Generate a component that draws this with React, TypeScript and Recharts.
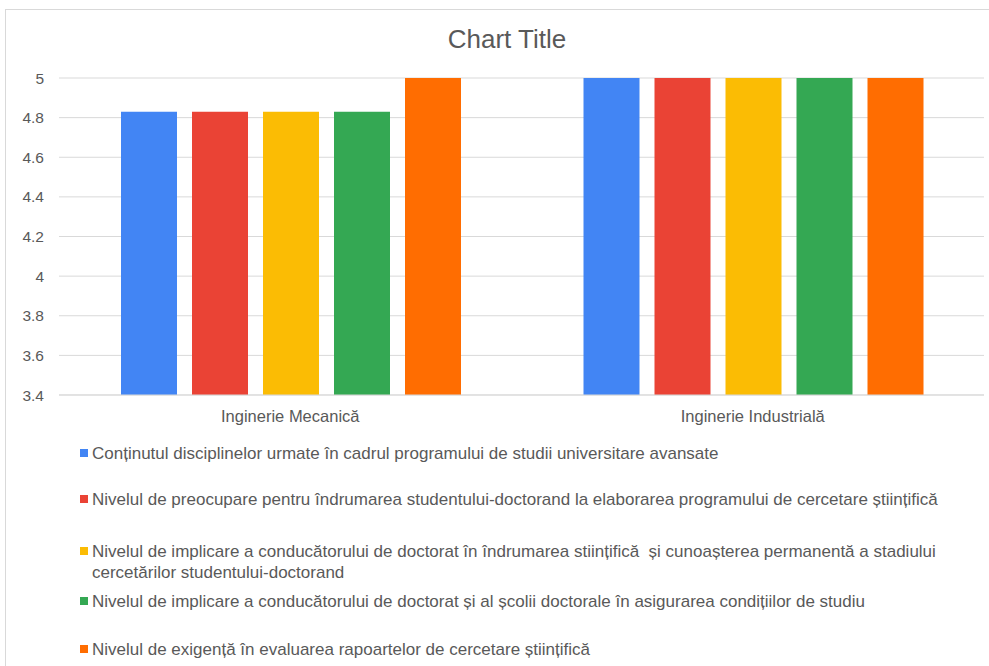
import { Bar, BarChart, CartesianGrid, XAxis, YAxis } from "recharts";

const categories = ["Inginerie Mecanică", "Inginerie Industrială"];

const continut = [4.83, 5];
const preocupare = [4.83, 5];
const implicareStiintifica = [4.83, 5];
const implicareConditii = [4.83, 5];
const exigenta = [5, 5];

const seriesNames = [
  "Conținutul disciplinelor urmate în cadrul programului de studii universitare avansate",
  "Nivelul de preocupare pentru îndrumarea studentului-doctorand la elaborarea programului de cercetare științifică",
  "Nivelul de implicare a conducătorului de doctorat în îndrumarea stiințifică  și cunoașterea permanentă a stadiului\ncercetărilor studentului-doctorand",
  "Nivelul de implicare a conducătorului de doctorat și al școlii doctorale în asigurarea condițiilor de studiu",
  "Nivelul de exigență în evaluarea rapoartelor de cercetare științifică",
];

const yTicks = [3.4, 3.6, 3.8, 4, 4.2, 4.4, 4.6, 4.8, 5];

const colors = ["#4285F4", "#EA4335", "#FBBC04", "#34A853", "#FF6D01"];
const keys = ["s1", "s2", "s3", "s4", "s5"];

// legend rows follow the reference's uneven spacing
const legendTops = [443, 489, 541, 591, 639];

const data = categories.map((name, i) => ({
  name,
  s1: continut[i],
  s2: preocupare[i],
  s3: implicareStiintifica[i],
  s4: implicareConditii[i],
  s5: exigenta[i],
}));

const FONT = "'Liberation Sans', Arial, sans-serif";
const TEXT = "#595959";

export default function App() {
  return (
    <div
      style={{
        position: "absolute",
        left: 0,
        top: 0,
        width: 989,
        height: 666,
        background: "#fff",
        fontFamily: FONT,
        overflow: "hidden",
      }}
    >
      <div
        style={{
          position: "absolute",
          left: 5,
          top: 9,
          width: 990,
          height: 670,
          border: "1px solid #d9d9d9",
          boxSizing: "border-box",
        }}
      />
      <div
        style={{
          position: "absolute",
          left: 0,
          top: 24,
          width: 1014,
          textAlign: "center",
          fontSize: 26,
          lineHeight: "30px",
          color: TEXT,
        }}
      >
        Chart Title
      </div>
      <div style={{ position: "absolute", left: 0, top: 0 }}>
        <BarChart
          width={989}
          height={430}
          data={data}
          margin={{ top: 78, right: 5, bottom: 5, left: 0 }}
          barCategoryGap={62}
          barGap={15}
        >
          <CartesianGrid vertical={false} stroke="#d9d9d9" />
          <XAxis
            dataKey="name"
            axisLine={{ stroke: "#d9d9d9" }}
            tickLine={false}
            tickMargin={9}
            height={30}
            tick={{ fill: TEXT, fontSize: 16.5, fontFamily: FONT }}
          />
          <YAxis
            domain={[3.4, 5]}
            ticks={yTicks}
            interval={0}
            width={59}
            axisLine={false}
            tickLine={false}
            tickSize={13}
            tickMargin={2}
            tickFormatter={(v: number) => String(Number(v.toFixed(1)))}
            tick={{ fill: TEXT, fontSize: 15.5, fontFamily: FONT }}
          />
          {keys.map((k, i) => (
            <Bar key={k} dataKey={k} fill={colors[i]} isAnimationActive={false} />
          ))}
        </BarChart>
      </div>
      {seriesNames.map((label, i) => (
        <div
          key={i}
          style={{
            position: "absolute",
            left: 80,
            top: legendTops[i],
            fontSize: 17,
            lineHeight: "21px",
            color: TEXT,
            display: "flex",
            whiteSpace: "pre",
          }}
        >
          <span
            style={{
              display: "inline-block",
              width: 8,
              height: 8,
              marginTop: 6,
              marginRight: 4,
              background: colors[i],
              flex: "none",
            }}
          />
          <span>{label}</span>
        </div>
      ))}
    </div>
  );
}
